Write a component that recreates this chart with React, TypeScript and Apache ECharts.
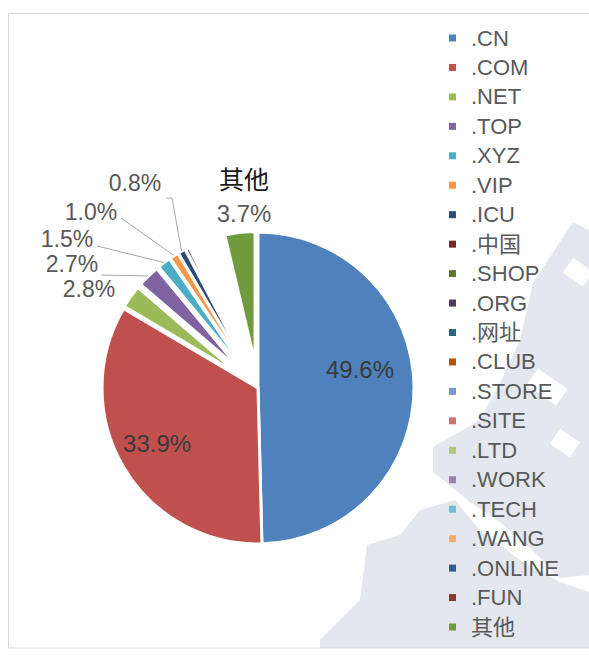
import React, { useEffect, useRef } from 'react';
import * as echarts from 'echarts';

// ---------- data ----------
const categories = [
  '.CN', '.COM', '.NET', '.TOP', '.XYZ', '.VIP', '.ICU', '.中国', '.SHOP', '.ORG', '.网址',
  '.CLUB', '.STORE', '.SITE', '.LTD', '.WORK', '.TECH', '.WANG', '.ONLINE', '.FUN', '其他',
];
const shares = [
  49.6, 33.9, 2.8, 2.7, 1.5, 1.0, 0.8, 0.5, 0.4, 0.4, 0.35,
  0.35, 0.3, 0.3, 0.3, 0.25, 0.25, 0.2, 0.2, 0.2, 3.7,
];
const colors = [
  '#4f81bd', '#c0504d', '#9bbb59', '#8064a2', '#4bacc6', '#f79646', '#2c4d75', '#772c2a',
  '#5f7530', '#4d3b62', '#276a7c', '#b65708', '#729aca', '#cd7371', '#afc97a', '#9983b5',
  '#6fbdd1', '#f9ab6b', '#2f5f8f', '#8c3836', '#6f9a3e',
];
// slices drawn in the full-size pie; all others are exploded
const mainSlices = ['.CN', '.COM'];

// ---------- layout ----------
const CX = 258;
const CY = 388;
const R_MAIN = 156;
const R_SMALL = 124;
const OFFSET = 32;
const FONT = "'Liberation Sans', Arial, 'Noto Sans CJK SC', sans-serif";
const CJK = "'Noto Sans CJK SC', sans-serif";

const labelSpots: Record<string, { x: number; y: number; line?: number[][] }> = {
  '.NET': { x: 89, y: 289 },
  '.TOP': { x: 72, y: 264, line: [[101, 275], [101, 275]] },
  '.XYZ': { x: 67, y: 239, line: [[97, 246], [97, 246]] },
  '.VIP': { x: 91, y: 212, line: [[121, 218], [121, 218]] },
  '.ICU': { x: 135, y: 183, line: [[172, 198], [166, 198]] },
};
const otherSpot = { x: 244, y: 178, y2: 213 };

const total = shares.reduce((a, b) => a + b, 0);
function midAngle(idx: number): number {
  let cum = 0;
  for (let i = 0; i < idx; i++) cum += shares[i];
  return ((cum + shares[idx] / 2) / total) * Math.PI * 2;
}
function explodedCenter(idx: number): number[] {
  const t = midAngle(idx);
  return [CX + Math.sin(t) * OFFSET, CY - Math.cos(t) * OFFSET];
}
function edgePoint(idx: number): number[] {
  const t = midAngle(idx);
  const c = explodedCenter(idx);
  return [c[0] + Math.sin(t) * (R_SMALL + 1), c[1] - Math.cos(t) * (R_SMALL + 1)];
}

export default function App() {
  const ref = useRef<HTMLDivElement>(null);
  useEffect(() => {
    if (!ref.current) return;
    const chart = echarts.init(ref.current, undefined, { renderer: 'svg' });

    const mainData = categories.map((name, i) => {
      const isMain = mainSlices.includes(name);
      return {
        name,
        value: shares[i],
        itemStyle: isMain
          ? { color: colors[i], borderColor: '#ffffff', borderWidth: 3 }
          : { color: 'transparent', borderWidth: 0 },
        label: { show: isMain },
      };
    });

    const explodedSeries = categories
      .map((name, k) => ({ name, k }))
      .filter((o) => !mainSlices.includes(o.name))
      .map(({ name: kName, k }) => {
        const labelled = !!labelSpots[kName] || kName === '其他';
        return {
          type: 'pie',
          center: explodedCenter(k),
          radius: R_SMALL,
          startAngle: 90,
          clockwise: true,
          silent: true,
          emphasis: { disabled: true },
          label: { show: false },
          labelLine: { show: false },
          data: categories.map((name, i) => ({
            name,
            value: shares[i],
            itemStyle:
              i === k
                ? { color: colors[i], borderColor: '#ffffff', borderWidth: labelled ? 1.5 : 3 }
                : { color: 'transparent', borderWidth: 0 },
          })),
        };
      });

    const labelGraphics: any[] = [];
    categories.forEach((name, i) => {
      const spot = labelSpots[name];
      if (!spot) return;
      if (spot.line) {
        labelGraphics.push({
          type: 'polyline', z: 9, silent: true,
          shape: { points: [edgePoint(i), spot.line[0], spot.line[1]] },
          style: { stroke: '#a6a6a6', lineWidth: 1, fill: 'none' },
        });
      }
      labelGraphics.push({
        type: 'text', z: 10, silent: true,
        style: {
          text: `${shares[i].toFixed(1)}%`, x: spot.x, y: spot.y,
          align: 'center', verticalAlign: 'middle',
          fontSize: 23, fontFamily: FONT, fill: '#595959',
        },
      });
    });
    const oi = categories.indexOf('其他');
    labelGraphics.push({
      type: 'text', z: 10, silent: true,
      style: {
        text: categories[oi], x: otherSpot.x, y: otherSpot.y,
        align: 'center', verticalAlign: 'middle',
        fontSize: 25, fontFamily: CJK, fill: '#1a1a1a',
      },
    });
    labelGraphics.push({
      type: 'text', z: 10, silent: true,
      style: {
        text: `${shares[oi].toFixed(1)}%`, x: otherSpot.x, y: otherSpot.y2,
        align: 'center', verticalAlign: 'middle',
        fontSize: 24, fontFamily: FONT, fill: '#595959',
      },
    });

    const watermark = '#e4e7ee';
    chart.setOption({
      animation: false,
      backgroundColor: '#ffffff',
      graphic: [
        {
          type: 'polygon', z: 0, silent: true,
          shape: { points: [[533, 283], [573, 222], [589, 230], [589, 575], [560, 578], [530, 548], [500, 522], [470, 502], [433, 472], [433, 447], [480, 420], [500, 383], [520, 340]] },
          style: { fill: watermark },
        },
        {
          type: 'polygon', z: 0, silent: true,
          shape: { points: [[320, 640], [360, 600], [367, 545], [400, 535], [420, 510], [455, 500], [480, 530], [520, 560], [560, 582], [589, 592], [589, 648], [320, 648]] },
          style: { fill: watermark },
        },
        { type: 'rect', z: 0, silent: true, x: 578, y: 272, rotation: -0.6, shape: { x: -12, y: -9, width: 24, height: 18 }, style: { fill: '#ffffff' } },
        { type: 'rect', z: 0, silent: true, x: 547, y: 387, rotation: -0.6, shape: { x: -18, y: -10, width: 36, height: 20 }, style: { fill: '#ffffff' } },
        { type: 'rect', z: 0, silent: true, x: 565, y: 443, rotation: -0.6, shape: { x: -12, y: -9, width: 24, height: 18 }, style: { fill: '#ffffff' } },
        {
          type: 'rect', z: 1, silent: true,
          shape: { x: 8.5, y: 13.5, width: 640, height: 634.5 },
          style: { fill: 'none', stroke: '#d9d9d9', lineWidth: 1 },
        },
        ...labelGraphics,
      ],
      legend: {
        orient: 'vertical',
        left: 444,
        top: 22,
        itemWidth: 27,
        itemHeight: 7,
        itemGap: 7.45,
        icon: 'path://M0,0 L10,0 L10,10 L0,10 Z',
        selectedMode: false,
        itemStyle: { borderWidth: 0 },
        textStyle: { fontSize: 22, color: '#595959', fontFamily: FONT, lineHeight: 22 },
        data: categories.map((name, i) => ({ name, itemStyle: { color: colors[i], borderWidth: 0 } })),
      },
      series: [
        {
          type: 'pie',
          center: [CX, CY],
          radius: R_MAIN,
          startAngle: 90,
          clockwise: true,
          silent: true,
          emphasis: { disabled: true },
          data: mainData,
          label: {
            position: 'inside',
            fontSize: 24,
            color: '#3a3a3a',
            fontFamily: FONT,
            formatter: (p: any) => `${Number(p.value).toFixed(1)}%`,
          },
          labelLine: { show: false },
          labelLayout: (p: any) => {
            const name = categories[p.dataIndex];
            if (name === '.CN') return { dx: 21, dy: -17 };
            if (name === '.COM') return { dx: -31, dy: 14 };
            return {};
          },
        },
        ...explodedSeries,
      ],
    });
    return () => chart.dispose();
  }, []);

  return (
    <div
      ref={ref}
      style={{ position: 'fixed', left: 0, top: 0, width: 589, height: 655, background: '#fff' }}
    />
  );
}
